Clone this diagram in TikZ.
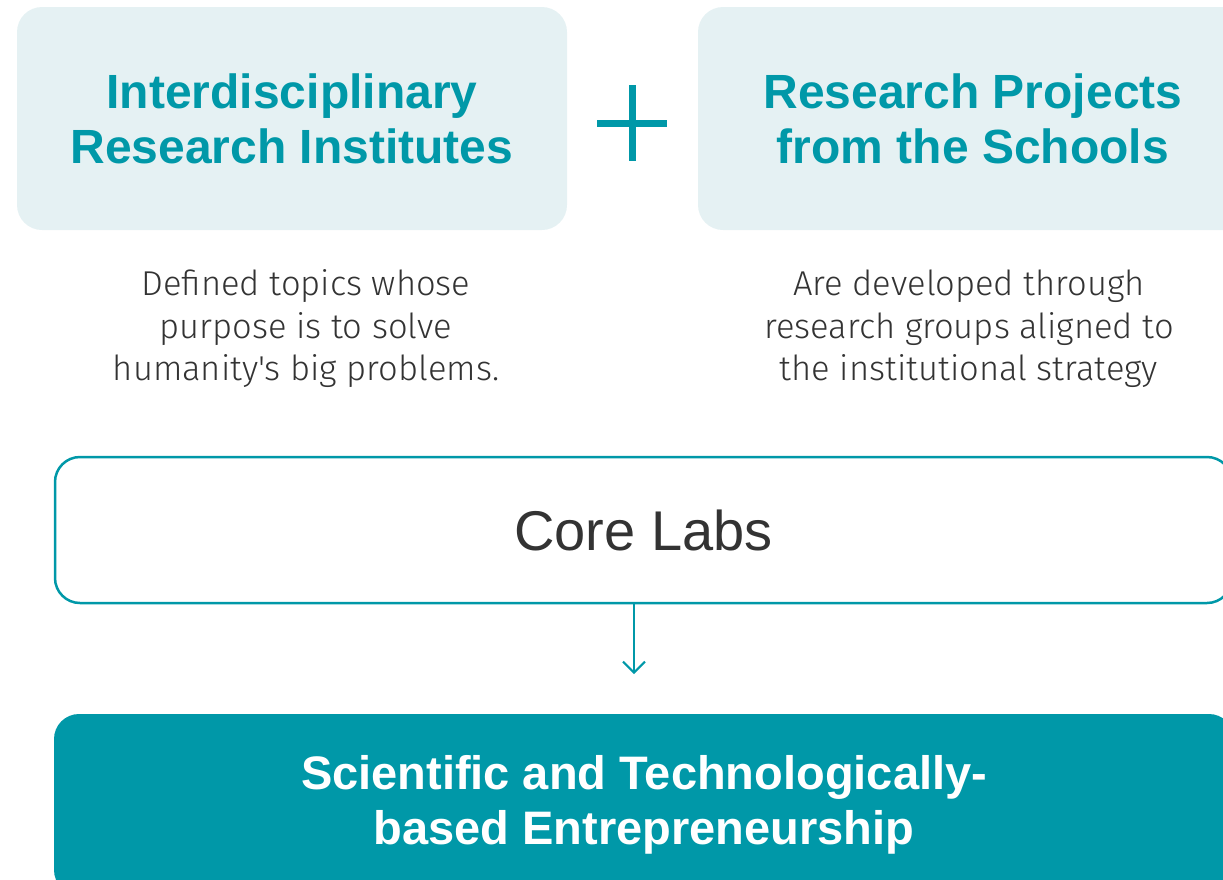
\documentclass[tikz,border=0pt]{standalone}
\usepackage{fontspec}
\setmainfont{Liberation Sans}
\newfontfamily\descfont{Fira Sans Light}
\usepackage{tikz}
\usetikzlibrary{positioning,calc}
\usetikzlibrary{arrows.meta}
\definecolor{LabTeal}{RGB}{0,152,168}
\definecolor{PaleTeal}{RGB}{229,241,243}
\definecolor{InkGray}{RGB}{51,51,51}
\tikzset{
  topbox/.style={fill=PaleTeal,rounded corners=25pt,minimum width=550pt,minimum height=223pt,
    align=center,text=LabTeal,font=\fontsize{48}{55}\selectfont\bfseries},
  desc/.style={align=center,text=InkGray,font=\descfont\fontsize{34.5}{42.5}\selectfont},
  corebox/.style={draw=LabTeal,line width=2.5pt,fill=white,rounded corners=25pt,
    minimum width=1177pt,minimum height=146pt,text=InkGray,font=\fontsize{56}{64}\selectfont},
  outbox/.style={fill=LabTeal,rounded corners=25pt,minimum width=1180pt,minimum height=181pt,
    align=center,text=white,font=\fontsize{47}{55}\selectfont\bfseries},
  plusbar/.style={draw=LabTeal,line width=7pt},
  flow/.style={draw=LabTeal,line width=2pt,-{Straight Barb[length=11pt,width=22pt,line width=2pt]}},
}
\begin{document}
\begin{tikzpicture}[x=1pt,y=-1pt]
\useasboundingbox (0,0) rectangle (1223,879);
\clip (0,0) rectangle (1223,879);
\node[topbox] (inst) at (292,118.5) {Interdisciplinary\\Research Institutes};
\node[topbox] (proj) at (973,118.5) {Research Projects\\from the Schools};
\node[desc] (instdesc) at (306,329) {Defined topics whose\\purpose is to solve\\humanity's big problems.};
\node[desc] (projdesc) at (969,329) {Are developed through\\research groups aligned to\\the institutional strategy};
\coordinate (plus) at (632,123);
\draw[plusbar] ($(plus)+(-35,0)$) -- ($(plus)+(35,0)$);
\draw[plusbar] ($(plus)+(0,-38)$) -- ($(plus)+(0,38)$);
\node[corebox] (core) at (643.5,530) {Core Labs};
\node[outbox] (entre) at (644,804.5) {Scientific and Technologically-\\based Entrepreneurship};
\coordinate (tip) at (634,674);
\draw[flow] (tip |- core.south) -- (tip);
\end{tikzpicture}
\end{document}
